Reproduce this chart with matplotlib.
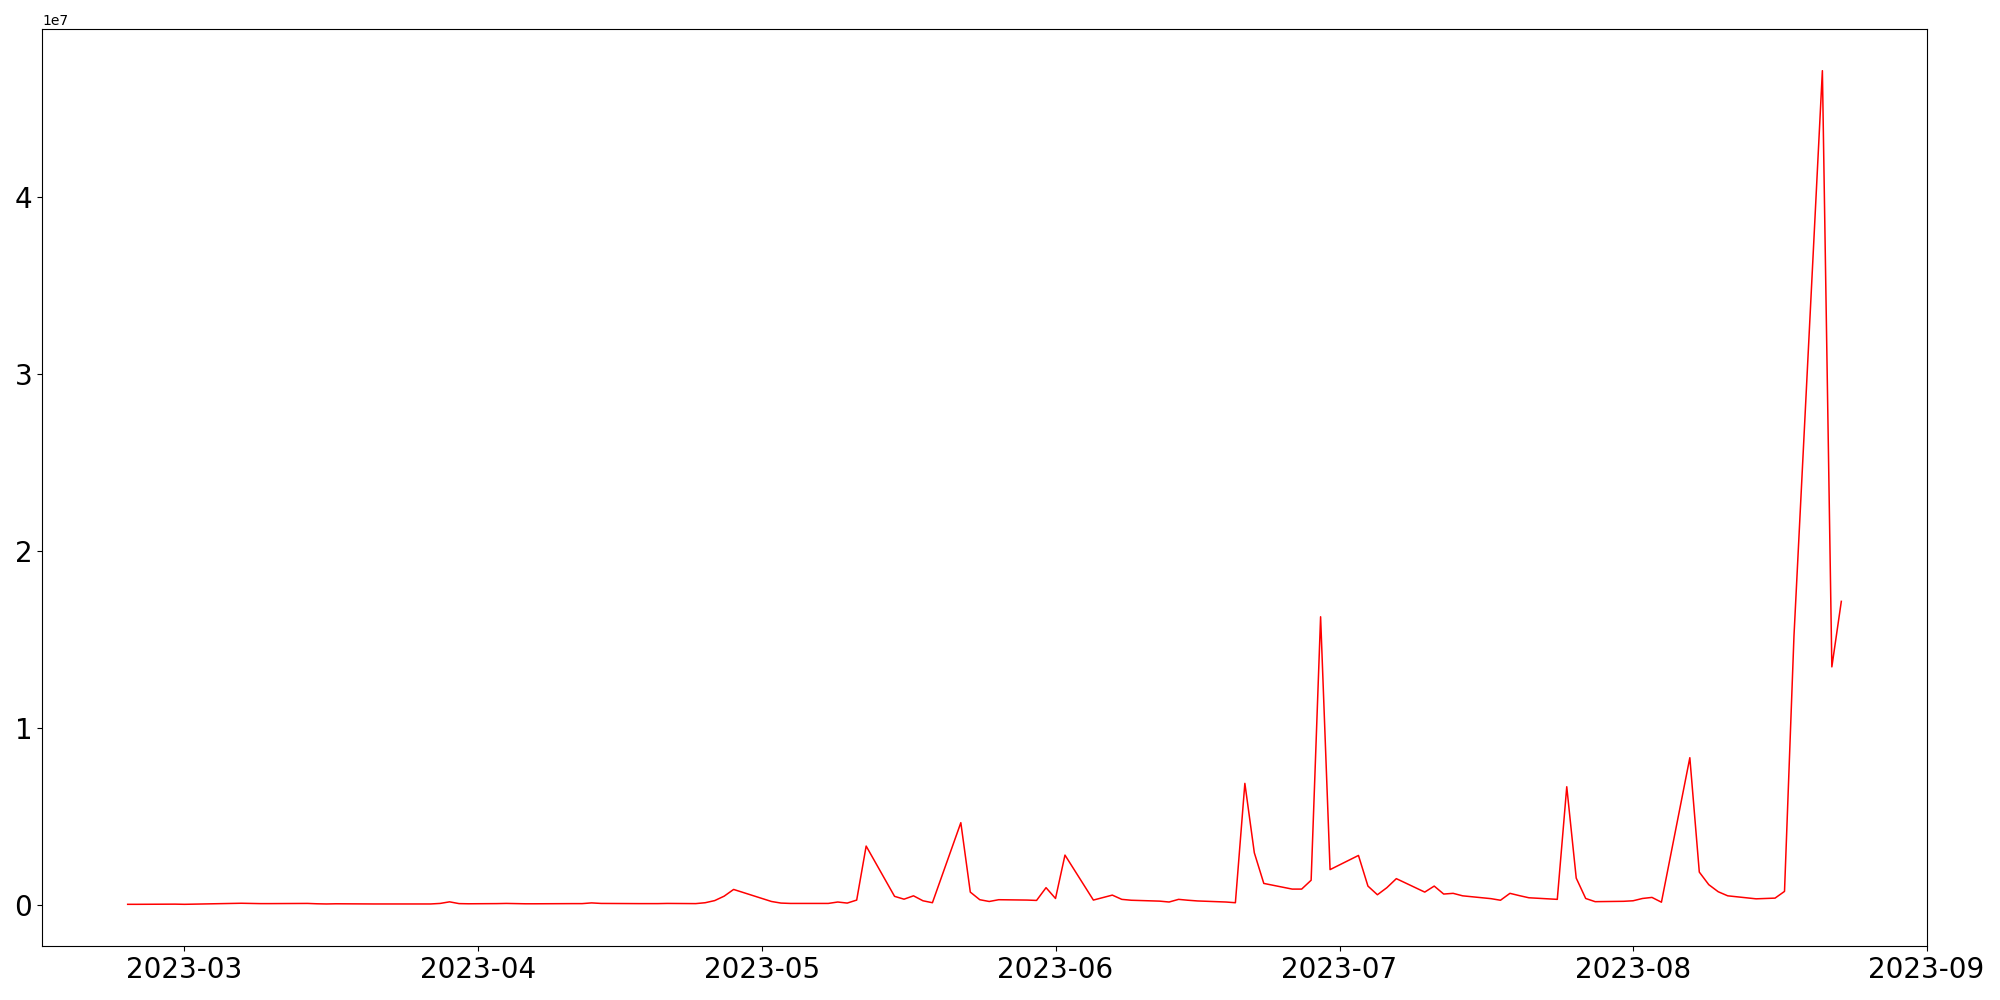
import matplotlib
matplotlib.use("Agg")
import matplotlib.pyplot as plt
import pandas as pd

start_date = "2023-02-23"
end_date = "2023-08-23"

# one value per weekday (Mon-Fri) from start_date to end_date
feb = [0.4e5, 0.4e5, 0.5e5, 0.5e5]
mar = [0.4e5, 0.5e5, 0.6e5, 0.9e5, 1.0e5, 0.9e5, 0.8e5, 0.8e5, 0.9e5, 0.9e5,
       0.7e5, 0.6e5, 0.7e5, 0.6e5, 0.6e5, 0.6e5, 0.6e5, 0.6e5, 0.6e5, 0.9e5,
       1.8e5, 0.8e5, 0.7e5]
apr = [0.8e5, 0.9e5, 0.8e5, 0.7e5, 0.7e5, 0.8e5, 0.8e5, 0.8e5, 1.2e5, 0.9e5,
       0.8e5, 0.8e5, 0.8e5, 0.8e5, 0.9e5, 0.8e5, 1.3e5, 2.5e5, 5.0e5, 8.8e5]
may = [3.7e5, 2.0e5, 1.1e5, 0.9e5, 0.9e5, 0.9e5, 1.7e5, 1.1e5, 2.8e5, 3.33e6,
       4.9e5, 3.3e5, 5.2e5, 2.4e5, 1.3e5, 4.65e6, 7.3e5, 3.0e5, 2.0e5, 3.0e5,
       2.8e5, 2.6e5, 9.8e5]
jun = [3.7e5, 2.82e6, 2.8e5, 4.2e5, 5.6e5, 3.2e5, 2.7e5, 2.2e5, 1.7e5, 3.2e5,
       2.7e5, 2.3e5, 1.7e5, 1.3e5, 6.87e6, 2.95e6, 1.22e6, 9.0e5, 9.0e5, 1.4e6,
       1.628e7, 2.0e6]
jul = [2.8e6, 1.07e6, 5.8e5, 9.8e5, 1.49e6, 7.3e5, 1.07e6, 6.2e5, 6.6e5, 5.2e5,
       3.6e5, 2.7e5, 6.6e5, 5.3e5, 4.1e5, 3.2e5, 6.68e6, 1.52e6, 3.7e5, 1.9e5,
       2.1e5]
aug = [2.4e5, 3.7e5, 4.3e5, 1.6e5, 8.32e6, 1.86e6, 1.15e6, 7.5e5, 5.2e5, 3.5e5,
       3.7e5, 3.9e5, 7.7e5, 1.52e7, 4.712e7, 1.345e7, 1.715e7]

values = feb + mar + apr + may + jun + jul + aug
dates = pd.bdate_range(start_date, end_date)

fig = plt.figure(figsize=(20, 10), dpi=100)
ax = fig.add_axes([0.021, 0.054, 0.9425, 0.917])
ax.plot(dates[:len(values)], values, color="red", linewidth=1.1)
ax.tick_params(axis="both", labelsize=20)
fig.savefig("out.png", dpi=100)
